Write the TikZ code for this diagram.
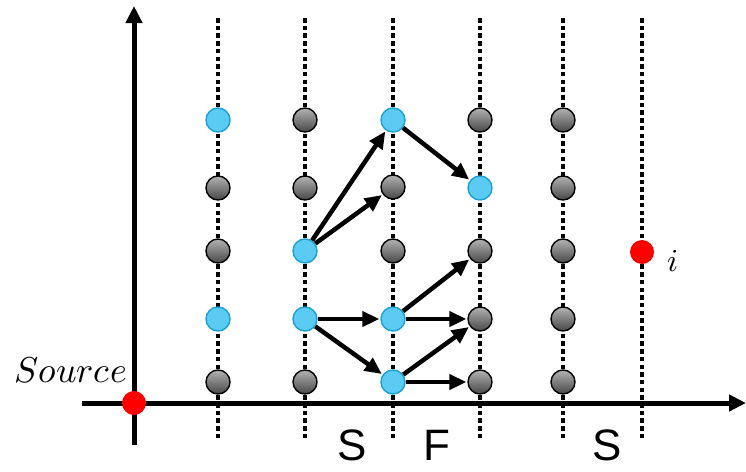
\documentclass[tikz,border=0pt]{standalone}
\usepackage{fontspec}
\usepackage{unicode-math}
\setmathfont{Latin Modern Math}
\newfontfamily\labfont{Liberation Sans}
\usetikzlibrary{arrows.meta}
\definecolor{bfill}{HTML}{5CCBF3}
\definecolor{bline}{HTML}{1BA1D2}
\definecolor{rdot}{HTML}{FF0000}
\tikzset{
  gnode/.style={circle,minimum size=24pt,inner sep=0pt,draw=black,line width=1.4pt,top color=black!30,bottom color=black!72},
  bnode/.style={circle,minimum size=24pt,inner sep=0pt,draw=bline,line width=1.4pt,fill=bfill},
  rnode/.style={circle,minimum size=24pt,inner sep=0pt,fill=rdot},
  dotline/.style={line width=4.5pt,dash pattern=on 4.5pt off 3.2pt},
  axisline/.style={line width=5pt,-{Triangle[length=17pt,width=16pt]}},
  conn/.style={line width=4.5pt,-{Triangle[length=17pt,width=15pt]},shorten >=1pt},
  lab/.style={inner sep=0pt,font=\labfont\fontsize{44}{46}\selectfont}
}
\begin{document}
\begin{tikzpicture}[x=1pt,y=-1pt]
\useasboundingbox (0,0) rectangle (746,471);
% dotted columns
\foreach \x/\n in {218/1,305/2,393/3,480/4,563/5,642/6}{
  \coordinate (t\n) at (\x,18);
  \coordinate (b\n) at (\x,438);
  \draw[dotline] (t\n) -- (b\n);
}
% axes
\coordinate (yb) at (134,445);
\coordinate (yt) at (134,6);
\coordinate (xl) at (82,403);
\coordinate (xr) at (746,403);
\draw[axisline] (yb) -- (yt);
\draw[axisline] (xl) -- (xr);
% nodes column 1
\node[bnode] (n11) at (218,120) {};
\node[gnode] (n12) at (218,188) {};
\node[gnode] (n13) at (218,251) {};
\node[bnode] (n14) at (218,319) {};
\node[gnode] (n15) at (218,382) {};
% column 2
\node[gnode] (n21) at (305,120) {};
\node[gnode] (n22) at (305,188) {};
\node[bnode] (n23) at (305,251) {};
\node[bnode] (n24) at (305,319) {};
\node[gnode] (n25) at (305,382) {};
% column 3
\node[bnode] (n31) at (393,120) {};
\node[gnode] (n32) at (393,187) {};
\node[gnode] (n33) at (393,251) {};
\node[bnode] (n34) at (393,319) {};
\node[bnode] (n35) at (393,382) {};
% column 4
\node[gnode] (n41) at (480,120) {};
\node[bnode] (n42) at (480,188) {};
\node[gnode] (n43) at (480,251) {};
\node[gnode] (n44) at (480,319) {};
\node[gnode] (n45) at (480,382) {};
% column 5
\node[gnode] (n51) at (563,120) {};
\node[gnode] (n52) at (563,188) {};
\node[gnode] (n53) at (563,251) {};
\node[gnode] (n54) at (563,319) {};
\node[gnode] (n55) at (563,382) {};
% special
\node[rnode] (ni) at (642,252) {};
\node[rnode] (src) at (134,403) {};
% connectors
\draw[conn] (n23) -- (n31);
\draw[conn] (n23) -- (n32);
\draw[conn] (n31) -- (n42);
\draw[conn] (n24) -- (n34);
\draw[conn] (n24) -- (n35);
\draw[conn] (n34) -- (n43);
\draw[conn] (n34) -- (n44);
\draw[conn] (n35) -- (n44);
\draw[conn] (n35) -- (n45);
% labels
\node[inner sep=0pt,anchor=base west] (li) at (667,271) {\fontsize{32}{34}\selectfont$i$};
\node[inner sep=0pt,anchor=base east] (lsrc) at (127,382) {\fontsize{36}{40}\selectfont$Source$};
\node[lab,anchor=base] (s1) at (352,460) {S};
\node[lab,anchor=base] (f1) at (437,460) {F};
\node[lab,anchor=base] (s2) at (607,460) {S};
\end{tikzpicture}
\end{document}
